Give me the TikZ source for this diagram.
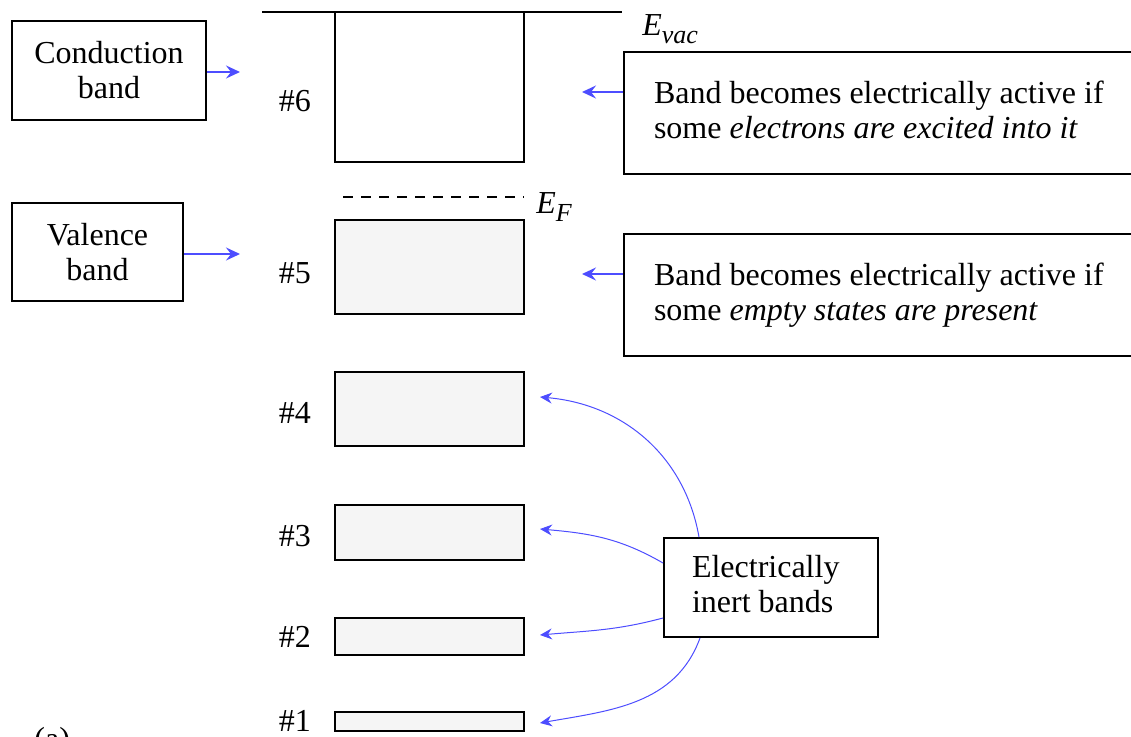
\documentclass[tikz,border=0pt]{standalone}
\usepackage{fontspec}
\setmainfont{Liberation Serif}
\usepackage{tikz}
\usetikzlibrary{positioning,arrows.meta}
\usepackage{xcolor}
\definecolor{arrowblue}{RGB}{77,77,255}
\definecolor{bandgray}{RGB}{245,245,245}
\tikzset{
  >={Stealth[length=7pt,width=6.5pt,inset=2.5pt]},
}
\newcommand{\lowsub}[1]{\raisebox{-4pt}{\fontsize{13}{13}\selectfont\textit{#1}}}

\begin{document}
\begin{tikzpicture}[
  x=0.5pt, y=0.5pt,
  every node/.style={font=\fontsize{16}{17.5}\selectfont},
  band/.style={draw, line width=1pt, fill=bandgray, minimum width=94.5pt, inner sep=0pt},
  infobox/.style={draw, line width=1pt, align=center, inner sep=0pt},
  notebox/.style={draw, line width=1pt, align=flush left, anchor=west, text width=255pt, inner xsep=15pt, minimum height=61pt},
  pointer/.style={->, draw=arrowblue, line width=1pt},
  curvy/.style={-{Stealth[length=6pt,width=5.5pt,inset=2pt]}, draw=arrowblue, line width=0.5pt}
]
\useasboundingbox (0,0) rectangle (1131,736);

% bands
\node[band, fill=white, minimum height=75pt] (b6) at (429.5,649) {};
\node[band, minimum height=47pt] (b5) at (429.5,469) {};
\node[band, minimum height=37pt] (b4) at (429.5,327) {};
\node[band, minimum height=27.5pt] (b3) at (429.5,203.5) {};
\node[band, minimum height=18.5pt] (b2) at (429.5,99.5) {};
\node[band, minimum height=9.5pt] (b1) at (429.5,14.5) {};

\node[left=8pt of b6, yshift=-7pt] (n6) {\#6};
\node[left=8pt of b5, yshift=-3pt] (n5) {\#5};
\node[left=8pt of b4, yshift=-2pt] (n4) {\#4};
\node[left=8pt of b3, yshift=-2pt] (n3) {\#3};
\node[left=8pt of b2] (n2) {\#2};
\node[left=8pt of b1, yshift=0.5pt] (n1) {\#1};

% levels
\coordinate (vacL) at (262,724);
\coordinate (vacR) at (622,724);
\draw[line width=1pt] (vacL) -- (vacR);
\node[anchor=base west, inner sep=0pt] (evac) at (642,701) {\textit{E}\lowsub{vac}};
\coordinate (fermiL) at (343,539);
\coordinate (fermiR) at (524,539);
\draw[line width=1pt, dash pattern=on 5pt off 4pt] (fermiL) -- (fermiR);
\node[anchor=base west, inner sep=0pt] (ef) at (536,523) {\textit{E}\lowsub{F}};

% side boxes
\node[infobox, minimum width=97pt, minimum height=49.5pt] (cb) at (109,665.5) {Conduction\\band};
\node[infobox, minimum width=85.5pt, minimum height=49pt] (vb) at (97.5,484) {Valence\\band};
\node[notebox] (rt) at (623,623) {Band becomes electrically active if\\some \textit{electrons are excited into it}\vphantom{p}};
\node[notebox] (rb) at (623,441) {Band becomes electrically active if\\some \textit{empty states are present}};
\node[draw, line width=1pt, align=flush left, text width=79pt, inner xsep=14pt, minimum height=49.5pt] (inert) at (771,148.5) {Electrically\\inert bands\vphantom{p}};

\coordinate (c6) at (240,664);
\coordinate (c5) at (240,482);
\coordinate (t6) at (582,644);
\coordinate (t5) at (582,462);
\draw[pointer] (cb.east |- c6) -- (c6);
\draw[pointer] (vb.east |- c5) -- (c5);
\draw[pointer] (rt.west |- t6) -- (t6);
\draw[pointer] (rb.west |- t5) -- (t5);

\coordinate (t4) at (540,339);
\coordinate (t3) at (540,207);
\coordinate (t2) at (540,101);
\coordinate (t1) at (540,13);
\draw[curvy] ([xshift=-36pt]inert.north) to[out=100,in=-5] (t4);
\draw[curvy] ([yshift=12.25pt]inert.west) to[out=150,in=-5] (t3);
\draw[curvy] ([yshift=-15.25pt]inert.west) to[out=195,in=5] (t2);
\draw[curvy] ([xshift=-35.5pt]inert.south) to[out=-110,in=10] (t1);

\node[anchor=base west, inner sep=0pt] (tag) at (34,-13) {(a)};
\end{tikzpicture}
\end{document}
